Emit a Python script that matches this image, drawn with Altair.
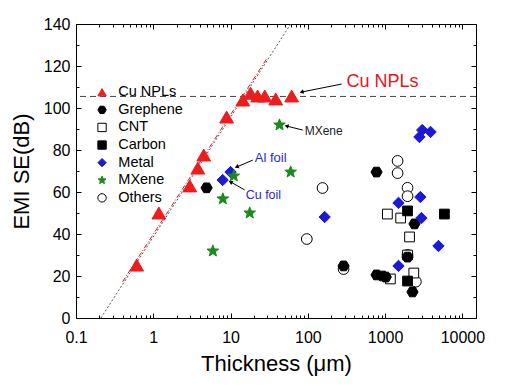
import math
import altair as alt
import pandas as pd

W, H = 400, 294
FONT = "Liberation Sans"

# ---------------- data ----------------
series_order = ["Cu NPLs", "Grephene", "CNT", "Carbon", "Metal", "MXene", "Others"]

cu_x = [0.61, 1.18, 2.97, 3.77, 4.5, 8.9, 14.4, 18.2, 22.4, 27.7, 38.4, 61.7]
cu_y = [25.2, 50, 62.9, 71.4, 77.6, 95.7, 103.8, 107, 105.7, 105.7, 104.3, 105.7]

gr_x = [4.9, 290, 775, 775, 927, 1020, 1950, 2400, 2260]
gr_y = [62, 24.8, 69.5, 20.5, 20, 19.5, 29, 44.8, 12.4]

cnt_x = [1070, 1590, 2070, 1950, 2350, 1170]
cnt_y = [49.5, 47.6, 38.6, 30, 21.4, 18.6]

carbon_x = [1950, 5850, 1950]
carbon_y = [51, 49.5, 17.6]

metal_x = [7.9, 10, 165, 1490, 2860, 2950, 4900, 1490, 2780, 3020, 3870]
metal_y = [65.7, 69.5, 48.1, 54.8, 57.6, 47.6, 34.3, 24.8, 86.2, 89.5, 88.6]

mx_x = [11, 60, 7.95, 17.7, 5.9, 43]
mx_y = [67.6, 69.5, 56.7, 50, 31.9, 91.9]

oth_x = [155, 97, 1450, 1450, 1950, 1950, 290, 1950, 2500]
oth_y = [61.9, 37.6, 74.8, 69, 62, 58, 23.3, 30, 17.3]

fit_dark_x = [0.21, 60]
fit_dark_y = [0, 140]
fit_red_x = [0.4, 30]
fit_red_y = [17.2, 124]

limit_y = [105.5]

ann_text = ["Cu NPLs", "MXene", "Al foil", "Cu foil"]
ann_x = [316, 91, 20.6, 15.7]
ann_y = [112.4, 89, 76.2, 58.6]
ann_color = ["#e8141b", "#222222", "#2b2bc4", "#2b2bc4"]
ann_size = [18, 12, 13, 12.5]

arr_x0 = [274, 86, 19.4, 15.2]
arr_y0 = [111.4, 89.5, 75.2, 61]
arr_x1 = [83, 53, 12, 10]
arr_y1 = [107.6, 91.4, 71.9, 64.8]
arr_angle = [257, 284, 246, 300]

x_major = [0.1, 1, 10, 100, 1000, 10000]
x_minor = [m * d for d in [0.1, 1, 10, 100, 1000] for m in range(2, 10)]
y_major = list(range(0, 141, 20))
y_minor = list(range(10, 140, 20))

# ---------------- shapes / styles ----------------
star_pts = []
for i in range(10):
    a = math.radians(-90 + 36 * i)
    r = 1.0 if i % 2 == 0 else 0.42
    star_pts.append(f"{r*math.cos(a):.3f},{r*math.sin(a):.3f}")
STAR = "M" + "L".join(star_pts) + "Z"
HEX = "M-0.5,-0.866L0.5,-0.866L1,0L0.5,0.866L-0.5,0.866L-1,0Z"

shape_range = ["triangle-up", HEX, "square", "square", "diamond", STAR, "circle"]
fill_range = ["#ee1c1c", "#000000", "#ffffff", "#000000", "#1a1ad6", "#1a8a1a", "#ffffff"]
stroke_range = ["#ee1c1c", "#000000", "#000000", "#000000", "#1a1ad6", "#1a8a1a", "#000000"]
size_map = dict(zip(series_order, [190, 125, 95, 95, 130, 150, 115]))

draw_order = [("Others", oth_x, oth_y), ("CNT", cnt_x, cnt_y), ("Carbon", carbon_x, carbon_y),
              ("Grephene", gr_x, gr_y), ("Metal", metal_x, metal_y), ("MXene", mx_x, mx_y),
              ("Cu NPLs", cu_x, cu_y)]
rows = []
for name, xs, ys in draw_order:
    for xv, yv in zip(xs, ys):
        rows.append({"x": xv, "y": yv, "series": name, "sz": size_map[name]})
pts = pd.DataFrame(rows)

xscale = alt.Scale(type="log", domain=[0.1, 15000], nice=False)
yscale = alt.Scale(domain=[0, 140], nice=False)

NOAX = None
LEG = alt.Legend(title=None)

points = alt.Chart(pts).mark_point(filled=True, opacity=1, strokeWidth=1).encode(
    x=alt.X("x:Q", scale=xscale, axis=alt.Axis(
        orient="bottom", values=x_major, format="~g", ticks=False, domain=False,
        grid=False, labelFlush=False, labelOverlap=False, labelFont=FONT,
        labelFontSize=16, labelColor="black", labelPadding=11,
        title="Thickness (μm)", titleFont=FONT, titleFontSize=22,
        titleFontWeight="normal", titleColor="black", titlePadding=8)),
    y=alt.Y("y:Q", scale=yscale, axis=alt.Axis(
        orient="left", values=y_major, format="d", ticks=False, domain=False,
        grid=False, labelFlush=False, labelOverlap=False, labelFont=FONT,
        labelFontSize=16, labelColor="black", labelPadding=6,
        title="EMI SE(dB)", titleFont=FONT, titleFontSize=22,
        titleFontWeight="normal", titleColor="black", titlePadding=10)),
    shape=alt.Shape("series:N", scale=alt.Scale(domain=series_order, range=shape_range), legend=LEG),
    fill=alt.Fill("series:N", scale=alt.Scale(domain=series_order, range=fill_range), legend=LEG),
    stroke=alt.Stroke("series:N", scale=alt.Scale(domain=series_order, range=stroke_range), legend=LEG),
    size=alt.Size("sz:Q", scale=None),
)

fit_df = pd.DataFrame({"x": fit_dark_x, "y": fit_dark_y})
fit_red_df = pd.DataFrame({"x": fit_red_x, "y": fit_red_y})
fit_dark = alt.Chart(fit_df).mark_line(color="#555555", strokeWidth=1, strokeDash=[2, 2], clip=True).encode(
    x=alt.X("x:Q", scale=xscale, axis=NOAX), y=alt.Y("y:Q", scale=yscale, axis=NOAX))
fit_red = alt.Chart(fit_red_df).mark_line(color="#e8141b", strokeWidth=1, strokeDash=[5, 2, 1, 2], clip=True).encode(
    x=alt.X("x:Q", scale=xscale, axis=NOAX), y=alt.Y("y:Q", scale=yscale, axis=NOAX))

limit = alt.Chart(pd.DataFrame({"y": limit_y})).mark_rule(color="#444444", strokeWidth=1, strokeDash=[6, 4]).encode(
    y=alt.Y("y:Q", scale=yscale, axis=NOAX))

ann_df = pd.DataFrame({"t": ann_text, "x": ann_x, "y": ann_y, "c": ann_color, "s": ann_size})
ann = alt.Chart(ann_df).mark_text(align="left", baseline="middle", font=FONT).encode(
    x=alt.X("x:Q", scale=xscale, axis=NOAX), y=alt.Y("y:Q", scale=yscale, axis=NOAX),
    text="t:N", color=alt.Color("c:N", scale=None), size=alt.Size("s:Q", scale=None))

arr_df = pd.DataFrame({"x0": arr_x0, "y0": arr_y0, "x1": arr_x1, "y1": arr_y1, "a": arr_angle})
arr_lines = alt.Chart(arr_df).mark_rule(color="black", strokeWidth=1).encode(
    x=alt.X("x0:Q", scale=xscale, axis=NOAX), y=alt.Y("y0:Q", scale=yscale, axis=NOAX),
    x2="x1:Q", y2="y1:Q")
arr_heads = alt.Chart(arr_df).mark_point(shape="triangle-up", filled=True, color="black", opacity=1, size=22).encode(
    x=alt.X("x1:Q", scale=xscale, axis=NOAX), y=alt.Y("y1:Q", scale=yscale, axis=NOAX),
    angle=alt.Angle("a:Q", scale=None))

dummy = pd.DataFrame({"x": [1.0], "y": [50.0]})


def tick_layer(xorient, yorient, xvals, yvals, size):
    return alt.Chart(dummy).mark_point(opacity=0, size=1).encode(
        x=alt.X("x:Q", scale=xscale, axis=alt.Axis(
            orient=xorient, offset=-H, values=xvals, labels=False, domain=False,
            ticks=True, tickSize=size, tickColor="black", tickWidth=1, grid=False, title=None)),
        y=alt.Y("y:Q", scale=yscale, axis=alt.Axis(
            orient=yorient, offset=-W, values=yvals, labels=False, domain=False,
            ticks=True, tickSize=size, tickColor="black", tickWidth=1, grid=False, title=None)),
    )


t1 = tick_layer("top", "right", x_major, y_major, 5)
t2 = tick_layer("top", "right", x_minor, y_minor, 3)
t3 = tick_layer("bottom", "left", x_major, y_major, 5)
t4 = tick_layer("bottom", "left", x_minor, y_minor, 3)

chart = alt.layer(
    limit, fit_dark, fit_red, arr_lines, arr_heads, ann, points, t1, t2, t3, t4
).resolve_axis(x="independent", y="independent").properties(
    width=W, height=H,
    autosize=alt.AutoSizeParams(type="none"),
    padding={"left": 68, "top": 16, "right": 25, "bottom": 59},
    background="white",
).configure_view(stroke="black", strokeWidth=1).configure_axis(grid=False).configure_legend(
    orient="none", legendX=18.8, legendY=61, labelFont=FONT, labelFontSize=14.5,
    labelColor="black", symbolSize=70, rowPadding=2.6, labelOffset=9, padding=0,
    symbolStrokeWidth=1,
)

chart.save("out.html", embed_options={"renderer": "svg", "actions": False})
